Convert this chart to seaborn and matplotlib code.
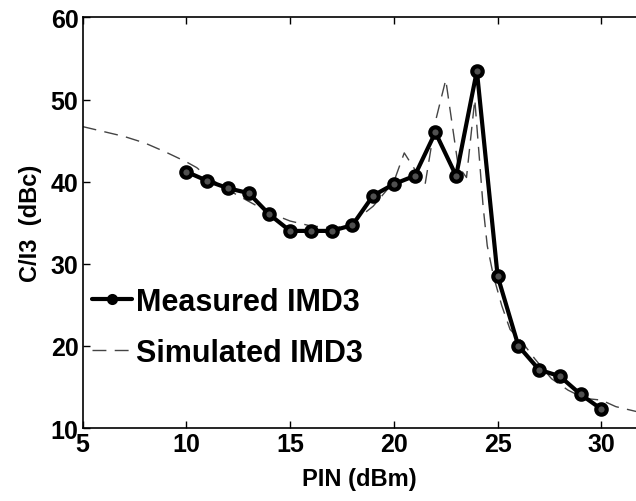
import numpy as np
import pandas as pd
import matplotlib
matplotlib.use('Agg')
import matplotlib.pyplot as plt
import seaborn as sns

# Measured IMD3 points
pin_meas = [10, 11, 12, 13, 14, 15, 16, 17, 18, 19, 20, 21, 22, 23, 24, 25, 26, 27, 28, 29, 30]
ci3_meas = [41.2, 40.1, 39.2, 38.6, 36.0, 34.0, 34.0, 34.0, 34.7, 38.3, 39.7, 40.7,
            46.0, 40.7, 53.5, 28.5, 20.0, 17.1, 16.3, 14.1, 12.3]

# Simulated IMD3 curve
pin_sim = [5, 6, 7, 8, 9, 10, 10.5, 11, 12, 13, 14, 15, 16, 17, 17.5, 18, 19, 20, 20.5,
           20.8, 21.5, 22, 22.5, 23.1, 23.5, 23.9, 24.3, 24.5, 24.8, 25.2, 25.6, 26.2,
           26.8, 27.6, 28.4, 29.2, 30, 30.7, 31.7]
ci3_sim = [46.7, 46.1, 45.5, 44.7, 43.6, 42.4, 41.7, 40.6, 39.0, 37.6, 36.2, 35.2, 34.6,
           34.4, 34.5, 35.0, 37.0, 40.0, 43.5, 42.3, 39.6, 47.3, 52.4, 41.9, 40.5, 50.0,
           37.0, 32.2, 28.5, 24.9, 22.0, 20.4, 18.4, 16.0, 14.6, 13.6, 13.4, 12.6, 12.0]

meas = pd.DataFrame({'PIN': pin_meas, 'CI3': ci3_meas})
sim = pd.DataFrame({'PIN': pin_sim, 'CI3': ci3_sim})

sns.set_style('ticks')
plt.rcParams['font.family'] = ['Liberation Sans', 'DejaVu Sans']
plt.rcParams['font.weight'] = 'bold'
for key in ['text.color', 'axes.labelcolor', 'xtick.color', 'ytick.color', 'axes.edgecolor']:
    plt.rcParams[key] = 'black'

fig = plt.figure(figsize=(6.36, 5.02), dpi=100)
ax = fig.add_axes([0.130, 0.1454, 0.870, 0.818])

sns.lineplot(data=sim, x='PIN', y='CI3', ax=ax, color='#444444', linewidth=1.0,
             dashes=False, label='Simulated IMD3')
ax.lines[-1].set_dashes([10, 6])
sns.lineplot(data=meas, x='PIN', y='CI3', ax=ax, color='black', linewidth=3,
             marker='o', markersize=7.5, markerfacecolor='#505050', markeredgecolor='black',
             markeredgewidth=3.0, label='Measured IMD3')

ax.set_xlim(5, 31.67)
ax.set_ylim(10, 60)
ax.set_xticks([5, 10, 15, 20, 25, 30])
ax.set_yticks([10, 20, 30, 40, 50, 60])
ax.tick_params(direction='in', top=True, right=False, length=5, width=1,
               labelsize=18, pad=3)
for lab in ax.get_xticklabels() + ax.get_yticklabels():
    lab.set_fontweight('bold')
ax.spines['right'].set_visible(False)
for s in ['left', 'bottom', 'top']:
    ax.spines[s].set_linewidth(1.2)

ax.set_xlabel('PIN (dBm)', fontsize=17, fontweight='bold', labelpad=8)
ax.set_ylabel('C/I3  (dBc)', fontsize=17, fontweight='bold', labelpad=6)

handles, labels = ax.get_legend_handles_labels()
leg = ax.legend(handles[::-1], labels[::-1], loc='center left', bbox_to_anchor=(0.0168, 0.245),
                frameon=False, handlelength=1.3, handletextpad=0.15,
                labelspacing=0.7, borderpad=0, borderaxespad=0,
                prop={'weight': 'bold', 'size': 22})
leg.legend_handles[0].set_markersize(5)
leg.legend_handles[0].set_markerfacecolor('black')

fig.savefig('out.png', dpi=100)
